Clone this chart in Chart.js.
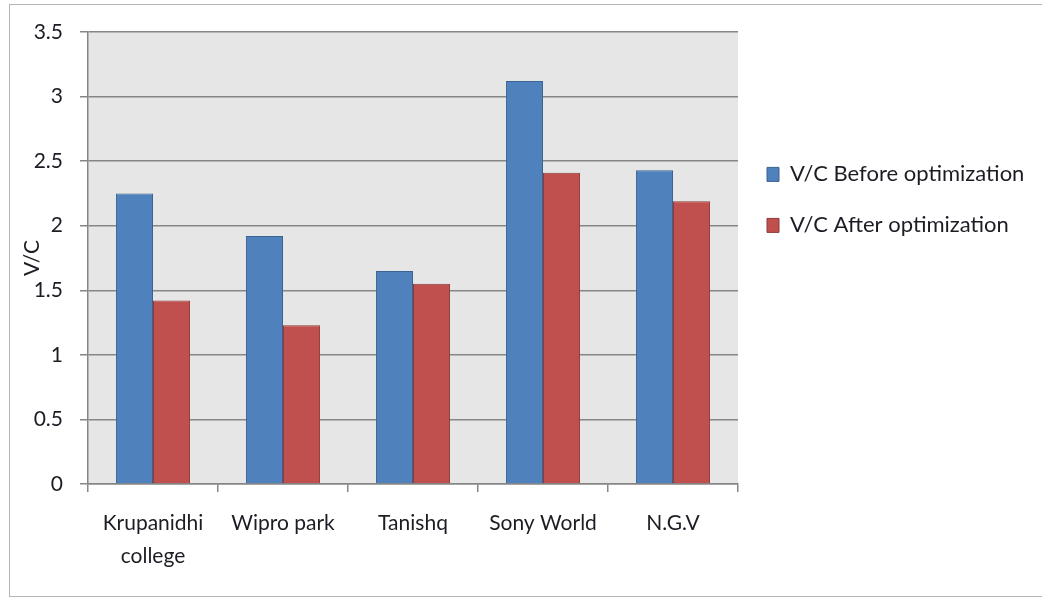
<!DOCTYPE html>
<html>
<head>
<meta charset="utf-8">
<script src="https://cdn.jsdelivr.net/npm/chart.js@4.4.1/dist/chart.umd.min.js"></script>
<style>
  html, body { margin: 0; padding: 0; background: #ffffff; }
  #wrap { position: relative; width: 1042px; height: 600px; }
</style>
</head>
<body>
<div id="wrap"><canvas id="vcChart" width="1042" height="600"></canvas></div>
<script>
const categories = [['Krupanidhi', 'college'], 'Wipro park', 'Tanishq', 'Sony World', 'N.G.V'];
const beforeValues = [2.25, 1.92, 1.65, 3.12, 2.43];
const afterValues = [1.42, 1.23, 1.55, 2.41, 2.19];
const seriesNames = ['V/C Before optimization', 'V/C After optimization'];
const yTicks = [0, 0.5, 1, 1.5, 2, 2.5, 3, 3.5];

const fontFamily = "Lato, 'Open Sans', sans-serif";
const textColor = '#1c1c24';
const gridColor = '#868686';

// grey plot area + thin frame round the whole chart
const plotBackground = {
  id: 'plotBackground',
  beforeDraw(chart) {
    const { ctx, chartArea } = chart;
    ctx.save();
    ctx.fillStyle = '#e6e6e6';
    ctx.fillRect(chartArea.left, chartArea.top, chartArea.right - chartArea.left, chartArea.bottom - chartArea.top);
    ctx.strokeStyle = '#b4b4b4';
    ctx.lineWidth = 1;
    ctx.strokeRect(9.5, 4.5, 1040, 592);
    ctx.restore();
  }
};

// keep the legend column a fixed width so the plot ends where it should
const legendWidth = {
  id: 'legendWidth',
  afterInit(chart) {
    const lg = chart.legend;
    const fit = lg.fit.bind(lg);
    lg.fit = function () { fit(); this.width = 304; };
  }
};

const ctx = document.getElementById('vcChart').getContext('2d');
new Chart(ctx, {
  type: 'bar',
  data: {
    labels: categories,
    datasets: [{
      label: seriesNames[0],
      data: beforeValues,
      backgroundColor: '#4f81bd',
      borderColor: '#3a6391',
      borderWidth: 1
    }, {
      label: seriesNames[1],
      data: afterValues,
      backgroundColor: '#c0504d',
      borderColor: '#8e3a38',
      borderWidth: 1
    }]
  },
  options: {
    responsive: false,
    animation: false,
    layout: { padding: { top: 32, right: 0, bottom: 0, left: 0 } },
    datasets: { bar: { categoryPercentage: 0.57, barPercentage: 1.0 } },
    scales: {
      x: {
        grid: { drawOnChartArea: false, drawTicks: true, tickLength: 8, offset: true, color: gridColor, lineWidth: 1.5 },
        border: { color: gridColor, width: 1.5 },
        ticks: { color: textColor, font: { family: fontFamily, size: 21, lineHeight: 1.6 }, padding: 14, maxRotation: 0 },
        afterFit(scale) { scale.height = 116; }
      },
      y: {
        min: 0,
        max: 3.5,
        afterBuildTicks(scale) { scale.ticks = yTicks.map(v => ({ value: v })); },
        grid: { color: gridColor, lineWidth: 1.5, tickLength: 8 },
        border: { color: gridColor, width: 1.5 },
        ticks: {
          color: textColor,
          font: { family: fontFamily, size: 21 },
          padding: 17,
          callback: v => String(v)
        },
        title: {
          display: true,
          text: 'V/C',
          color: textColor,
          font: { family: fontFamily, size: 21 },
          padding: { top: 20, bottom: 0 }
        },
        afterFit(scale) { scale.width = 88; }
      }
    },
    plugins: {
      legend: {
        position: 'right',
        align: 'start',
        title: { display: true, text: '', font: { size: 12 }, padding: { top: 88, bottom: 0 } },
        labels: {
          color: textColor,
          font: { family: fontFamily, size: 22 },
          boxWidth: 12,
          boxHeight: 14,
          padding: 29
        }
      },
      tooltip: { enabled: false }
    }
  },
  plugins: [plotBackground, legendWidth]
});
</script>
</body>
</html>
